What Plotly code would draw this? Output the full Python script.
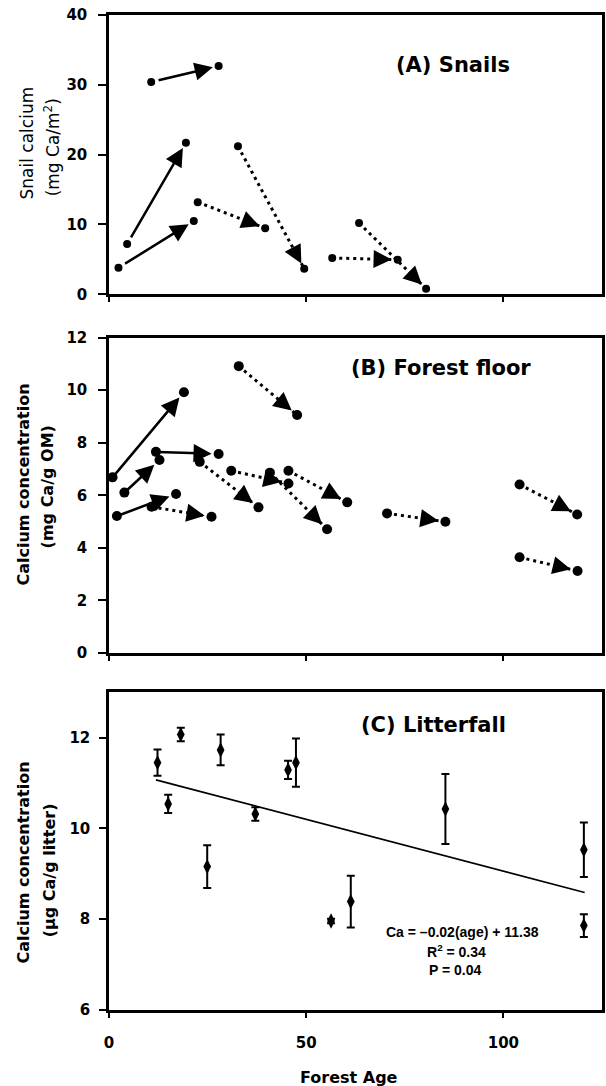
import math
import plotly.graph_objects as go

# ---------------- data ----------------
# Panel A: snails (solid = increase, dotted = decrease)
A_SOLID_X0 = [10.7, 4.6, 2.4]
A_SOLID_Y0 = [30.4, 7.2, 3.8]
A_SOLID_X1 = [27.8, 19.5, 21.5]
A_SOLID_Y1 = [32.7, 21.7, 10.5]
A_DOT_X0 = [22.5, 32.7, 56.6, 63.4]
A_DOT_Y0 = [13.2, 21.2, 5.2, 10.2]
A_DOT_X1 = [39.6, 49.5, 73.2, 80.4]
A_DOT_Y1 = [9.46, 3.67, 4.96, 0.8]

# Panel B: forest floor
B_SOLID_X0 = [0.9, 3.9, 11.9, 2.0]
B_SOLID_Y0 = [6.68, 6.10, 7.65, 5.21]
B_SOLID_X1 = [19.0, 12.8, 27.8, 17.0]
B_SOLID_Y1 = [9.92, 7.34, 7.57, 6.05]
B_DOT_X0 = [10.8, 23.0, 32.9, 31.0, 40.8, 45.5, 70.5, 104.1, 104.1]
B_DOT_Y0 = [5.56, 7.27, 10.91, 6.93, 6.86, 6.93, 5.31, 6.41, 3.64]
B_DOT_X1 = [26.0, 37.9, 47.7, 45.5, 55.3, 60.4, 85.3, 118.7, 118.8]
B_DOT_Y1 = [5.18, 5.54, 9.05, 6.45, 4.71, 5.73, 4.99, 5.27, 3.12]

# Panel C: litterfall
C_AGE = [12.3, 15.0, 18.2, 24.9, 28.3, 37.1, 45.4, 47.4, 56.3, 61.3, 85.3, 120.4, 120.4]
C_CA = [11.45, 10.54, 12.07, 9.16, 11.73, 10.32, 11.29, 11.45, 7.96, 8.39, 10.43, 9.53, 7.86]
C_ERR = [0.29, 0.20, 0.15, 0.47, 0.34, 0.15, 0.20, 0.53, 0.05, 0.57, 0.77, 0.60, 0.25]
REG_X = [11.9, 120.6]
REG_Y = [11.07, 8.59]

X_TICKS = [0, 50, 100]
A_YTICKS = [0, 10, 20, 30, 40]
B_YTICKS = [0, 2, 4, 6, 8, 10, 12]
C_YTICKS = [6, 8, 10, 12]

# ---------------- layout geometry ----------------
W, H = 606, 1086
L, R, T, B = 109, 1, 15, 76
PW, PH = W - L - R, H - T - B
X_RANGE = [0, 125]


def px_x(p):
    return (p - L) / PW


def px_y(p):
    return 1 - (p - T) / PH


DOM_A = [px_y(294.3), px_y(15)]
DOM_B = [px_y(653), px_y(337.5)]
DOM_C = [px_y(1010), px_y(692.3)]
RANGE_A = [0, 40]
RANGE_B = [0, 12]
RANGE_C = [6, 13]

BOLD = "DejaVu Sans"
ARIAL = "Liberation Sans, Arial"
HEAD = 1.45

fig = go.Figure()


def segs(x0, y0, x1, y1):
    xs, ys = [], []
    for a, b, c, d in zip(x0, y0, x1, y1):
        xs += [a, c, None]
        ys += [b, d, None]
    return xs, ys


def add_panel(xa, ya, sx0, sy0, sx1, sy1, dx0, dy0, dx1, dy1, msize, dom, yr,
              standoff, startstandoff):
    # dotted segments
    xs, ys = segs(dx0, dy0, dx1, dy1)
    fig.add_trace(go.Scatter(x=xs, y=ys, mode="lines", xaxis=xa, yaxis=ya,
                             line=dict(color="black", width=3, dash="3px,4px"),
                             hoverinfo="skip", showlegend=False))
    # points
    px = sx0 + sx1 + dx0 + dx1
    py = sy0 + sy1 + dy0 + dy1
    fig.add_trace(go.Scatter(x=px, y=py, mode="markers", xaxis=xa, yaxis=ya,
                             marker=dict(color="black", size=msize, symbol="circle"),
                             cliponaxis=False, showlegend=False))
    # solid arrows (full annotation arrows)
    for a, b, c, d in zip(sx0, sy0, sx1, sy1):
        fig.add_annotation(x=c, y=d, ax=a, ay=b, xref=xa, yref=ya, axref=xa, ayref=ya,
                           showarrow=True, arrowhead=2, arrowsize=HEAD, arrowwidth=2.5,
                           arrowcolor="black", standoff=standoff,
                           startstandoff=startstandoff, text="")
    # arrowheads for dotted segments
    sxu = PW / (X_RANGE[1] - X_RANGE[0])
    syu = (dom[1] - dom[0]) * PH / (yr[1] - yr[0])
    for a, b, c, d in zip(dx0, dy0, dx1, dy1):
        vx = (a - c) * sxu
        vy = (d - b) * syu
        n = math.hypot(vx, vy)
        ln = standoff + 18
        fig.add_annotation(x=c, y=d, ax=vx / n * ln, ay=vy / n * ln, xref=xa, yref=ya,
                           showarrow=True, arrowhead=2, arrowsize=HEAD, arrowwidth=2.5,
                           arrowcolor="black", standoff=standoff, text="")


add_panel("x", "y", A_SOLID_X0, A_SOLID_Y0, A_SOLID_X1, A_SOLID_Y1,
          A_DOT_X0, A_DOT_Y0, A_DOT_X1, A_DOT_Y1, 8, DOM_A, RANGE_A, 6, 6)
add_panel("x2", "y2", B_SOLID_X0, B_SOLID_Y0, B_SOLID_X1, B_SOLID_Y1,
          B_DOT_X0, B_DOT_Y0, B_DOT_X1, B_DOT_Y1, 10, DOM_B, RANGE_B, 7, 0)

# Panel C
fig.add_trace(go.Scatter(x=REG_X, y=REG_Y, mode="lines", xaxis="x3", yaxis="y3",
                         line=dict(color="black", width=1.6), showlegend=False))
fig.add_trace(go.Scatter(x=C_AGE, y=C_CA, mode="markers", xaxis="x3", yaxis="y3",
                         marker=dict(color="black", size=11, symbol="diamond-tall"),
                         error_y=dict(type="data", array=C_ERR, visible=True,
                                      color="black", thickness=2, width=4),
                         cliponaxis=False, showlegend=False))

axis_common = dict(showline=True, linecolor="black", linewidth=2.5, mirror=True,
                   showgrid=False, zeroline=False, ticks="outside", tickcolor="black",
                   tickwidth=2, range=X_RANGE, tickvals=X_TICKS, ticklen=5)
ytick_font = dict(family=BOLD, size=15, color="black", weight="bold")

fig.update_layout(
    width=W, height=H,
    margin=dict(l=L, r=R, t=T, b=B),
    paper_bgcolor="white", plot_bgcolor="white",
    showlegend=False,
    xaxis=dict(axis_common, anchor="y", showticklabels=False),
    xaxis2=dict(axis_common, anchor="y2", showticklabels=False),
    xaxis3=dict(axis_common, anchor="y3", showticklabels=True,
                tickfont=ytick_font, ticklabelstandoff=12),
    yaxis=dict(showline=True, linecolor="black", linewidth=2.5, mirror=True,
               showgrid=False, zeroline=False, ticks="outside", tickcolor="black",
               tickwidth=2, ticklen=8, domain=DOM_A, range=RANGE_A, tickvals=A_YTICKS,
               tickfont=ytick_font, ticklabelstandoff=8, anchor="x"),
    yaxis2=dict(showline=True, linecolor="black", linewidth=2.5, mirror=True,
                showgrid=False, zeroline=False, ticks="outside", tickcolor="black",
                tickwidth=2, ticklen=8, domain=DOM_B, range=RANGE_B, tickvals=B_YTICKS,
                tickfont=ytick_font, ticklabelstandoff=8, anchor="x2"),
    yaxis3=dict(showline=True, linecolor="black", linewidth=2.5, mirror=True,
                showgrid=False, zeroline=False, ticks="outside", tickcolor="black",
                tickwidth=2, ticklen=7, domain=DOM_C, range=RANGE_C, tickvals=C_YTICKS,
                tickfont=ytick_font, ticklabelstandoff=6, anchor="x3"),
)


def text_ann(txt, x, y, size, family=BOLD, weight="bold", angle=0):
    fig.add_annotation(text=txt, x=px_x(x), y=px_y(y), xref="paper", yref="paper",
                       showarrow=False, xanchor="center", yanchor="middle",
                       textangle=angle,
                       font=dict(family=family, size=size, color="black", weight=weight))


# panel titles
text_ann("(A) Snails", 455, 65, 21)
text_ann("(B) Forest floor", 443, 368, 21)
text_ann("(C) Litterfall", 435, 725, 21)

# y titles
text_ann("Snail calcium", 27, 143, 17, weight="normal", angle=-90)
text_ann("(mg Ca/m<sup>2</sup>)", 52, 147, 17, weight="normal", angle=-90)
text_ann("Calcium concentration", 22, 485, 16, angle=-90)
text_ann("(mg Ca/g OM)", 47, 487, 16, angle=-90)
text_ann("Calcium concentration", 22, 863, 16, angle=-90)
text_ann("(\u00b5g Ca/g litter)", 49, 870, 16, angle=-90)

# x title
text_ann("Forest Age", 350, 1077, 16)

# regression text
text_ann("Ca = \u20130.02(age) + 11.38", 465, 932, 14, family=ARIAL)
text_ann("R<sup>2</sup> = 0.34", 459, 951, 14, family=ARIAL)
text_ann("P = 0.04", 458, 970, 14, family=ARIAL)

fig.write_html("out.html", config={"displayModeBar": False},
               post_script="document.body.style.margin='0';document.body.style.overflow='hidden';")
